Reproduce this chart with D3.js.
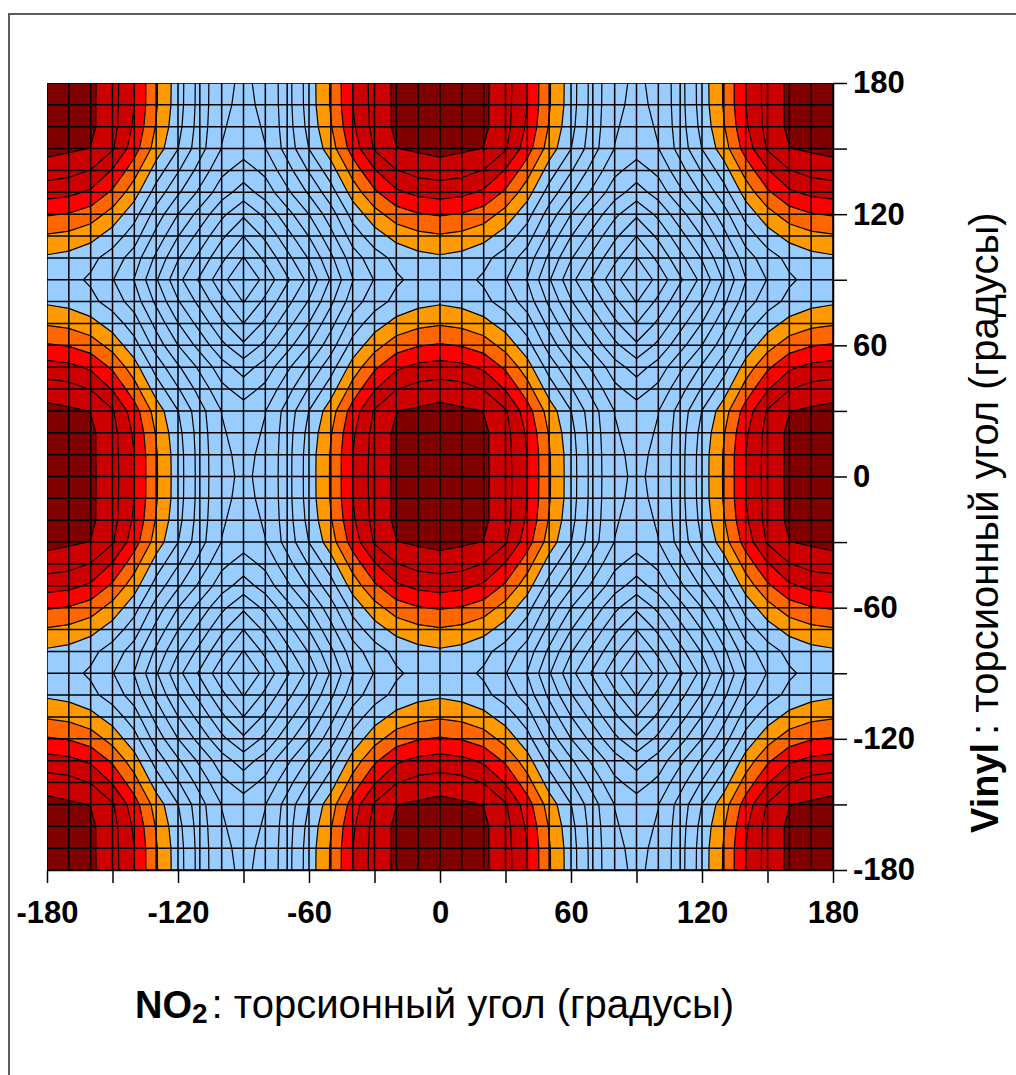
<!DOCTYPE html>
<html>
<head>
<meta charset="utf-8">
<script src="https://cdn.jsdelivr.net/npm/d3@7"></script>
<style>
  body { margin: 0; background: #fff; }
  svg { display: block; }
  .tick text { font-family: "Liberation Sans", Arial, sans-serif; font-weight: bold; font-size: 31px; fill: #000; }
</style>
</head>
<body>
<svg id="chart" width="1016" height="1075"></svg>
<script>
// one quadrant of the surface (energy in contour-level units)
// columns: NO2 angle 0..90, one row per vinyl angle 0..90
// the rest of the -180..180 square repeats it by mirror symmetry
var quadAngles = [0, 10, 20, 30, 40, 50, 60, 70, 80, 90];
var vinyl0  = [16.5, 16.4, 16.2, 15.4, 14.0, 12.1, 10.5, 8.6, 7.15, 6.9];
var vinyl10 = [16.5, 16.4, 16.19, 15.38, 13.99, 12.09, 10.48, 8.59, 7.13, 6.85];
var vinyl20 = [16.45, 16.34, 16.2, 15.35, 13.83, 11.92, 10.33, 8.52, 7.08, 6.7];
var vinyl30 = [16.32, 16.15, 15.97, 15.1, 13.44, 11.55, 10.02, 8.38, 6.98, 6.45];
var vinyl40 = [15.5, 15.36, 14.96, 13.92, 12.42, 10.54, 9.09, 7.62, 6.25, 5.55];
var vinyl50 = [14.4, 14.25, 13.83, 12.83, 11.42, 9.59, 8.15, 6.79, 5.44, 4.55];
var vinyl60 = [13.1, 12.94, 12.52, 11.62, 10.37, 8.57, 7.01, 5.64, 4.24, 3.18];
var vinyl70 = [11.9, 11.73, 11.33, 10.56, 9.46, 7.69, 6.03, 4.64, 3.21, 2.0];
var vinyl80 = [10.85, 10.67, 10.28, 9.55, 8.54, 6.79, 5.09, 3.7, 2.25, 0.95];
var vinyl90 = [10.5, 10.3, 9.85, 9.05, 7.95, 6.1, 4.3, 2.85, 1.35, 0];
var quadrant = [vinyl0, vinyl10, vinyl20, vinyl30, vinyl40, vinyl50, vinyl60, vinyl70, vinyl80, vinyl90];

// contour lines at every level, colour fills start at some of them
var lineLevels = [1, 2, 3, 4, 5, 6, 7, 8, 9, 10, 11, 12, 13, 14, 15, 16];
var bandLevels = [11, 12, 13, 14, 16];
var bandColors = ["#ff9900", "#ff6600", "#ff0000", "#cc0000", "#800000"];
var lowColor = "#99ccff";

var axisTicks = [-180, -150, -120, -90, -60, -30, 0, 30, 60, 90, 120, 150, 180];
var axisLabels = [-180, -120, -60, 0, 60, 120, 180];

var svg = d3.select("#chart");
var x = d3.scaleLinear().domain([-180, 180]).range([47, 833]);
var y = d3.scaleLinear().domain([-180, 180]).range([870, 83]);

// outer frame
svg.append("rect")
  .attr("x", 9).attr("y", 14).attr("width", 1100).attr("height", 1100)
  .attr("fill", "none").attr("stroke", "#5c5c5c").attr("stroke-width", 2);

// full grid, 10 degree steps
var sample = d3.range(-180, 181, 10);
function fold(a) {
  var b = Math.abs(a);
  if (b > 90) b = 180 - b;
  return quadAngles.indexOf(b);
}
var values = [];
sample.forEach(function (vy) {
  sample.forEach(function (vx) {
    values.push(quadrant[fold(vy)][fold(vx)]);
  });
});

var n = sample.length;
var contours = d3.contours().size([n, n]).thresholds(lineLevels)(values);

// grid coordinate c -> angle (value i sits at i + 0.5)
function toAngle(c) { return -180 + (c - 0.5) * 10; }
var path = d3.geoPath(d3.geoTransform({
  point: function (cx, cy) { this.stream.point(x(toAngle(cx)), y(toAngle(cy))); }
}));

svg.append("clipPath").attr("id", "plot-clip").append("rect")
  .attr("x", x(-180)).attr("y", y(180))
  .attr("width", x(180) - x(-180)).attr("height", y(-180) - y(180));

var plot = svg.append("g").attr("clip-path", "url(#plot-clip)");

plot.append("rect")
  .attr("x", x(-180)).attr("y", y(180))
  .attr("width", x(180) - x(-180)).attr("height", y(-180) - y(180))
  .attr("fill", lowColor);

plot.selectAll("path.band")
  .data(contours.filter(function (c) { return bandLevels.indexOf(c.value) >= 0; }))
  .enter().append("path")
  .attr("class", "band")
  .attr("d", path)
  .attr("fill", function (c) { return bandColors[bandLevels.indexOf(c.value)]; })
  .attr("stroke", "none");

plot.selectAll("path.line")
  .data(contours)
  .enter().append("path")
  .attr("class", "line")
  .attr("d", path)
  .attr("fill", "none")
  .attr("stroke", "#000")
  .attr("stroke-width", 1.2)
  .attr("stroke-linejoin", "round");

// mesh lines
plot.selectAll("line.vgrid").data(sample).enter().append("line")
  .attr("x1", function (d) { return x(d); }).attr("x2", function (d) { return x(d); })
  .attr("y1", y(180)).attr("y2", y(-180))
  .attr("stroke", "#000").attr("stroke-width", 1.5);
plot.selectAll("line.hgrid").data(sample).enter().append("line")
  .attr("y1", function (d) { return y(d); }).attr("y2", function (d) { return y(d); })
  .attr("x1", x(-180)).attr("x2", x(180))
  .attr("stroke", "#000").attr("stroke-width", 1.5);

// axes
function labelOf(d) { return axisLabels.indexOf(d) >= 0 ? d : ""; }

var xAxis = svg.append("g")
  .attr("transform", "translate(0," + y(-180) + ")")
  .call(d3.axisBottom(x).tickValues(axisTicks).tickSize(13).tickSizeOuter(0).tickPadding(18).tickFormat(labelOf));
var yAxis = svg.append("g")
  .attr("transform", "translate(" + x(180) + ",0)")
  .call(d3.axisRight(y).tickValues(axisTicks).tickSize(14).tickSizeOuter(0).tickPadding(6).tickFormat(labelOf));
[xAxis, yAxis].forEach(function (g) {
  g.selectAll("line").attr("stroke", "#000").attr("stroke-width", 1.5);
  g.select(".domain").attr("stroke", "#000").attr("stroke-width", 1.5);
  g.attr("font-size", null).attr("font-family", null);
});

// axis titles
var xTitle = svg.append("text")
  .attr("x", 135).attr("y", 1018)
  .attr("font-family", "'Liberation Sans', Arial, sans-serif")
  .attr("font-size", 40);
xTitle.append("tspan").attr("font-weight", "bold").attr("font-size", 38).text("NO");
xTitle.append("tspan").attr("font-weight", "bold").attr("font-size", 28).attr("dy", 5).text("2");
xTitle.append("tspan").attr("dy", -5).attr("dx", 4).text(": торсионный угол (градусы)");

var yTitle = svg.append("text")
  .attr("transform", "translate(998,833) rotate(-90)")
  .attr("font-family", "'Liberation Sans', Arial, sans-serif")
  .attr("font-size", 40);
yTitle.append("tspan").attr("font-weight", "bold").attr("font-size", 38).text("Vinyl");
yTitle.append("tspan").attr("dx", 8).text(": торсионный угол (градусы)");
</script>
</body>
</html>
